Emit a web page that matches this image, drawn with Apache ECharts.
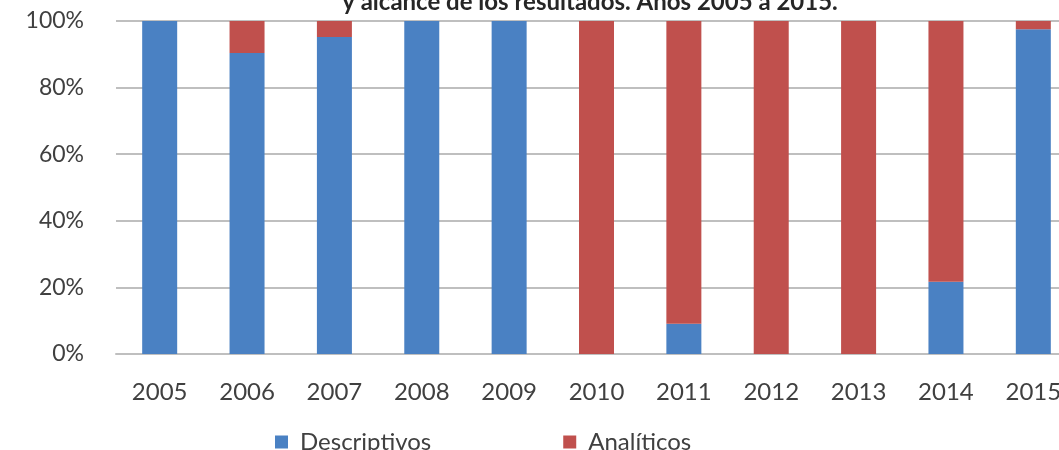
<!DOCTYPE html>
<html>
<head>
<meta charset="utf-8">
<script src="https://cdn.jsdelivr.net/npm/echarts@6/dist/echarts.min.js"></script>
<style>
  html, body { margin: 0; padding: 0; background: #fff; overflow: hidden; }
  /* the reference is cropped on the right, so the chart is wider than the window */
  #chart { width: 1077px; height: 450px; }
</style>
</head>
<body>
<div id="chart"></div>
<script>
const years = ["2005", "2006", "2007", "2008", "2009", "2010", "2011", "2012", "2013", "2014", "2015"];
const descriptivos = [100, 90.4, 95.2, 100, 100, 0, 9.1, 0, 0, 21.7, 97.5];
const analiticos = [0, 9.6, 4.8, 0, 0, 100, 90.9, 100, 100, 78.3, 2.5];

const chart = echarts.init(document.getElementById("chart"));
const font = "Lato, 'Open Sans', sans-serif";

chart.setOption({
  animation: false,
  title: {
    text: "y alcance de los resultados. Años 2005 a 2015.",
    left: 585,
    textAlign: "center",
    top: -15,
    textStyle: { fontFamily: font, fontSize: 24, fontWeight: "bold", color: "#262626" }
  },
  legend: {
    data: ["Descriptivos", "Analíticos"],
    left: 270,
    top: 425,
    itemWidth: 13,
    itemHeight: 13,
    itemGap: 132,
    icon: "rect",
    textStyle: { fontFamily: font, fontSize: 24, color: "#404040", padding: [0, 0, 0, 7] }
  },
  grid: {
    left: 116,
    top: 21,
    right: 0,
    height: 333
  },
  xAxis: {
    type: "category",
    data: years,
    axisLine: { lineStyle: { color: "#bfbfbf", width: 2 } },
    axisTick: { show: false },
    axisLabel: { fontFamily: font, fontSize: 24, color: "#404040", margin: 26 }
  },
  yAxis: {
    type: "value",
    min: 0,
    max: 100,
    interval: 20,
    axisLabel: { formatter: "{value}%", fontFamily: font, fontSize: 23, color: "#404040", margin: 32 },
    splitLine: { lineStyle: { color: "#bfbfbf", width: 2 } },
    axisLine: { show: false },
    axisTick: { show: false }
  },
  series: [
    {
      name: "Descriptivos",
      type: "bar",
      stack: "total",
      barWidth: 35,
      data: descriptivos,
      itemStyle: { color: "#4a81c3" }
    },
    {
      name: "Analíticos",
      type: "bar",
      stack: "total",
      barWidth: 35,
      data: analiticos,
      itemStyle: { color: "#c0504d" }
    }
  ]
});
</script>
</body>
</html>
